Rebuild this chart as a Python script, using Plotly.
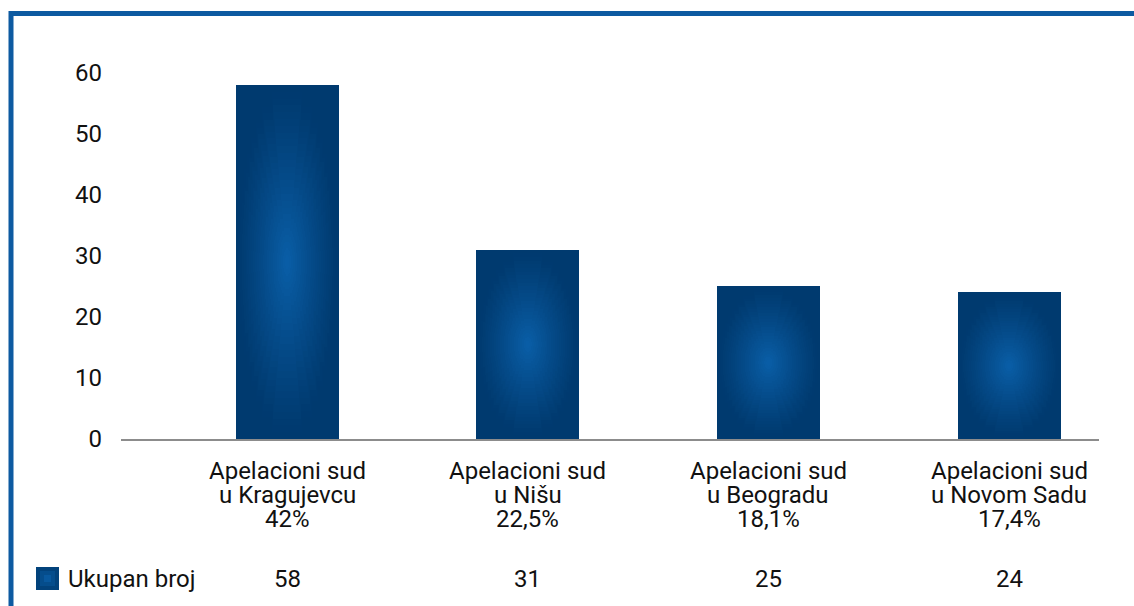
import math
import plotly.graph_objects as go

# ---------------- data ----------------
categories = ["Apelacioni sud<br>u Kragujevcu", "Apelacioni sud<br>u Nišu",
              "Apelacioni sud<br>u Beogradu", "Apelacioni sud<br>u Novom Sadu"]
percent_labels = ["42%", "22,5%", "18,1%", "17,4%"]
values = [58, 31, 25, 24]
series_name = "Ukupan broj"
y_ticks = [0, 10, 20, 30, 40, 50, 60]

# ---------------- layout geometry / style ----------------
W, H = 1134, 606
ML, MR, MT, MB = 121, 35, 30, 167
PW, PH = W - ML - MR, H - MT - MB
FONT = "Roboto"
TXT = "#111111"
EDGE = (0, 58, 111)
CENTER = (10, 96, 170)
BORDER = "#0d5aa1"


def px_x(X):
    return (X - ML) / PW


def px_y(Y):
    return (H - MB - Y) / PH


def mix(t):
    return "rgb(%d,%d,%d)" % tuple(round(EDGE[i] + (CENTER[i] - EDGE[i]) * t) for i in range(3))


xs = list(range(len(values)))
bar_w = 0.428

fig = go.Figure()

# the bars themselves (edge colour of the gradient)
fig.add_trace(go.Bar(
    x=xs, y=values, width=bar_w, name=series_name,
    marker=dict(color=mix(0), line=dict(width=0)),
    showlegend=False,
))

# radial (elliptical) gradient overlay built from nested elliptical bar stacks
N_LAYERS = 26
N_SLABS = 22
for k in range(1, N_LAYERS):
    r = 1 - k / N_LAYERS
    t = (1 - (r + 0.5 / N_LAYERS)) ** 1.15
    lx, lbase, ly, lw = [], [], [], []
    for i, v in enumerate(values):
        a = r * bar_w / 2
        b = r * v / 2
        cy = v / 2
        for j in range(N_SLABS):
            y0 = -b + 2 * b * j / N_SLABS
            y1 = -b + 2 * b * (j + 1) / N_SLABS
            ym = (y0 + y1) / 2
            hw = a * math.sqrt(max(0.0, 1 - (ym / b) ** 2))
            lx.append(xs[i])
            lbase.append(cy + y0)
            ly.append(y1 - y0)
            lw.append(2 * hw)
    fig.add_trace(go.Bar(
        x=lx, y=ly, base=lbase, width=lw,
        marker=dict(color=mix(t), line=dict(width=0)),
        showlegend=False, hoverinfo="skip",
    ))

annotations = []
for i, cat in enumerate(categories):
    lines = cat.split("<br>") + [percent_labels[i]]
    for j, line in enumerate(lines):
        annotations.append(dict(
            x=xs[i], xref="x", y=0, yref="paper", yshift=-(32 + 24.2 * j),
            text=line, showarrow=False, xanchor="center", yanchor="middle",
            font=dict(family=FONT, size=24, color=TXT)))
    annotations.append(dict(
        x=xs[i], xref="x", y=0, yref="paper", yshift=-139.5,
        text=str(values[i]), showarrow=False, xanchor="center", yanchor="middle",
        font=dict(family=FONT, size=24, color=TXT)))

annotations.append(dict(
    x=px_x(66), xref="paper", y=0, yref="paper", yshift=-139.5,
    text=series_name, showarrow=False, xanchor="left", yanchor="middle",
    font=dict(family=FONT, size=24, color=TXT)))

shapes = [
    # legend key
    dict(type="rect", xref="paper", yref="paper",
         x0=px_x(36), x1=px_x(59), y0=px_y(590), y1=px_y(567),
         fillcolor=mix(0.2), line=dict(width=0)),
    dict(type="rect", xref="paper", yref="paper",
         x0=px_x(40), x1=px_x(55), y0=px_y(586), y1=px_y(571),
         fillcolor=mix(0.5), line=dict(width=0)),
    dict(type="rect", xref="paper", yref="paper",
         x0=px_x(44), x1=px_x(51), y0=px_y(582), y1=px_y(575),
         fillcolor=mix(0.8), line=dict(width=0)),
    # frame (top and left)
    dict(type="path", xref="paper", yref="paper",
         path="M %f,%f L %f,%f L %f,%f" % (px_x(11), px_y(H + 10), px_x(11), px_y(13.5),
                                           px_x(W + 10), px_y(13.5)),
         line=dict(color=BORDER, width=5)),
]

fig.update_layout(
    width=W, height=H, autosize=False,
    margin=dict(l=ML, r=MR, t=MT, b=MB, pad=0),
    paper_bgcolor="white", plot_bgcolor="white",
    barmode="overlay", bargap=0,
    showlegend=False,
    xaxis=dict(range=[-0.69, 3.374], showticklabels=False, showgrid=False,
               zeroline=False, showline=True, linecolor="#8c8c8c", linewidth=2,
               ticks="", fixedrange=True),
    yaxis=dict(range=[0, 67.0], tickvals=y_ticks, ticktext=[str(t) for t in y_ticks],
               showgrid=False, zeroline=False, showline=False, ticks="",
               ticklabelstandoff=18,
               tickfont=dict(family=FONT, size=24, color=TXT), fixedrange=True),
    annotations=annotations,
    shapes=shapes,
)

fig.write_html("out.html",
               config={"displayModeBar": False, "staticPlot": True},
               post_script="document.body.style.margin='0';document.body.style.overflow='hidden';")
